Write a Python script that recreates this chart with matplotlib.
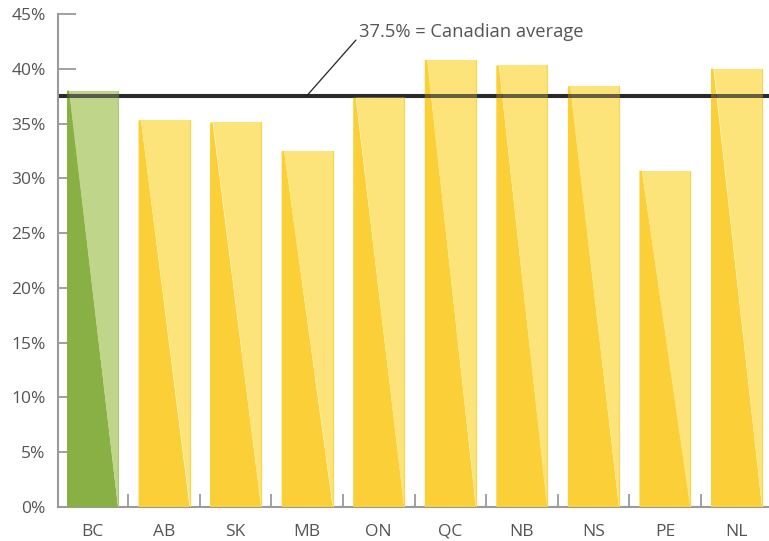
import numpy as np
import matplotlib.pyplot as plt

# province / valori (% )
province = ["BC", "AB", "SK", "MB", "ON", "QC", "NB", "NS", "PE", "NL"]
valori = [38.0, 35.3, 35.1, 32.5, 37.4, 40.8, 40.3, 38.4, 30.7, 40.0]
media_canada = 37.5
yticks = [0, 5, 10, 15, 20, 25, 30, 35, 40, 45]

plt.rcParams['font.family'] = ['Open Sans', 'DejaVu Sans']
grigio_testo = '#555555'
grigio_assi = '#9a9a9a'

fig = plt.figure(figsize=(7.69, 5.41), dpi=100)
ax = fig.add_axes([58/769, 34/541, 711/769, 493/541])

larghezza = 0.713
sbieco = 0.035
for i, (p, v) in enumerate(zip(province, valori)):
    if p == "BC":
        scuro, chiaro, bordo = '#88b044', '#bed58a', '#aac977'
    else:
        scuro, chiaro, bordo = '#fbcf37', '#fde47a', '#f8d446'
    l = i - larghezza / 2
    r = i + larghezza / 2
    # triangolo scuro in basso a sinistra, chiaro in alto a destra
    ax.fill([l, r, l + sbieco, l], [0, 0, v, v], color=scuro, lw=0, zorder=2)
    ax.fill([l + sbieco, r, r], [v, v, 0], color=chiaro, lw=0, zorder=2)
    ax.plot([r, r], [0, v], color=bordo, lw=0.8, zorder=2)

# linea della media canadese
ax.axhline(media_canada, color='#111111', lw=2.9, zorder=1)
ax.axhline(media_canada, color='#333333', lw=2.9, alpha=0.75, zorder=3)

ax.annotate("37.5% = Canadian average", xy=(2.99, media_canada), xytext=(3.72, 43.4),
            fontsize=13.2, color=grigio_testo, ha='left', va='center',
            arrowprops=dict(arrowstyle='-', color='#222222', lw=0.9, shrinkA=0, shrinkB=0,
                            relpos=(0, 0.2)))

ax.set_xlim(-0.482, 9.454)
ax.set_ylim(0, 45)
ax.set_yticks(yticks)
ax.set_yticklabels([f"{t}%" for t in yticks])
ax.set_xticks(range(len(province)))
ax.set_xticklabels(province)
ax.set_xticks(np.arange(0.5, 9, 1), minor=True)

ax.tick_params(axis='y', direction='in', length=13, width=1.3, color=grigio_assi,
               labelsize=12.5, labelcolor=grigio_testo, pad=9)
ax.tick_params(axis='x', which='major', length=0, labelsize=12.5,
               labelcolor=grigio_testo, pad=12)
ax.tick_params(axis='x', which='minor', direction='in', length=9.5, width=1.3,
               color=grigio_assi)

for s in ['top', 'right']:
    ax.spines[s].set_visible(False)
for s in ['left', 'bottom']:
    ax.spines[s].set_color(grigio_assi)
    ax.spines[s].set_linewidth(1.5)
    ax.spines[s].set_zorder(4)
ax.spines['bottom'].set_zorder(1)

fig.savefig('out.png', dpi=100)
